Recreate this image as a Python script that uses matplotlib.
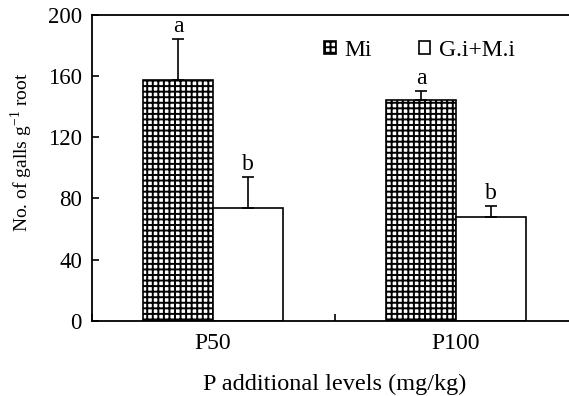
import matplotlib
matplotlib.use("Agg")
from matplotlib import pyplot as plt
import numpy as np

plt.rcParams['font.family'] = ['Liberation Serif', 'DejaVu Serif']
plt.rcParams['mathtext.fontset'] = 'custom'
plt.rcParams['mathtext.rm'] = 'Liberation Serif'
plt.rcParams['hatch.linewidth'] = 1.4

levels = ['P50', 'P100']
mi = [157, 144]
mi_err = [27, 6]
gimi = [74, 68]
gimi_err = [20, 7]
mi_letters = ['a', 'a']
gimi_letters = ['b', 'b']

fig = plt.figure(figsize=(5.69, 3.96), dpi=100)
ax = fig.add_axes([0.161, 0.19, 0.854, 0.773])

x = np.arange(len(levels))
w = 0.288
ax.bar(x - w / 2, mi, w, color='white', edgecolor='black', hatch='+++',
       linewidth=1.2, label='Mi')
ax.bar(x + w / 2, gimi, w, color='white', edgecolor='black',
       linewidth=1.2, label='G.i+M.i')
ax.errorbar(x - w / 2, mi, yerr=[np.zeros(2), mi_err], fmt='none',
            ecolor='black', elinewidth=1.2, capsize=4, capthick=1.2)
ax.errorbar(x + w / 2, gimi, yerr=[np.zeros(2), gimi_err], fmt='none',
            ecolor='black', elinewidth=1.2, capsize=4, capthick=1.2)

for xi, v, e, t in zip(x - w / 2, mi, mi_err, mi_letters):
    ax.text(xi, v + e + 1.5, t, ha='center', va='bottom', fontsize=17)
for xi, v, e, t in zip(x + w / 2, gimi, gimi_err, gimi_letters):
    ax.text(xi, v + e + 1.5, t, ha='center', va='bottom', fontsize=17)

ax.set_xlim(-0.5, 1.5)
ax.set_ylim(0, 200)
ax.set_yticks([0, 40, 80, 120, 160, 200])
ax.set_xticks([-0.5, 0.5, 1.5])
ax.set_xticklabels([])
ax.set_xticks(x, minor=True)
ax.set_xticklabels(levels, minor=True)
ax.tick_params(axis='x', which='minor', length=0, pad=9, labelsize=17)
ax.tick_params(axis='x', which='major', direction='in', length=5, width=1.2)
ax.tick_params(axis='y', direction='in', length=5, width=1.2, labelsize=16.5,
               pad=7)
for s in ax.spines.values():
    s.set_linewidth(1.3)

ax.set_ylabel('No. of galls g$^{\\mathregular{-1}}$ root', fontsize=14)
ax.yaxis.set_label_coords(-0.117, 0.55)
ax.set_xlabel('P additional levels (mg/kg)', fontsize=17.5)
ax.xaxis.set_label_coords(0.5, -0.172)

ax.legend(ncol=2, frameon=False, fontsize=17, loc='upper left',
          bbox_to_anchor=(0.478, 0.918), borderaxespad=0, borderpad=0,
          handlelength=0.5, handleheight=0.5,
          handletextpad=0.35, columnspacing=2.0)

plt.savefig('out.png', dpi=100)
